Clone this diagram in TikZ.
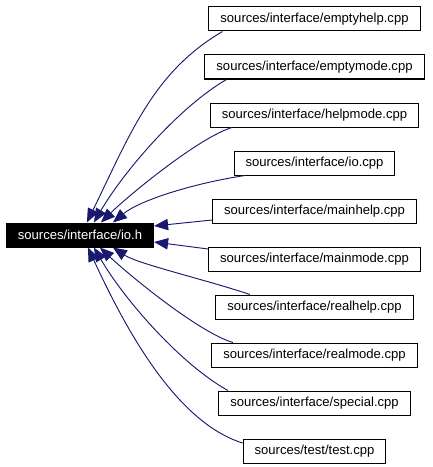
\documentclass[tikz,border=0pt]{standalone}
\usepackage{fontspec}
\setmainfont{Liberation Sans}
\usetikzlibrary{calc,arrows.meta}
\definecolor{edgeblue}{HTML}{191970}
\begin{document}
\begin{tikzpicture}[x=0.75pt,y=-0.75pt,
  filebox/.style={draw=black,line width=0.75pt,fill=white,inner xsep=8.6pt,inner ysep=2pt,
    minimum height=18pt,font=\fontsize{9.8pt}{12pt}\selectfont},
  mainbox/.style={filebox,fill=black,text=white},
  edge/.style={draw=edgeblue,line width=0.7pt,-{Triangle[length=10.5pt,width=8.5pt]}}]
\path[fill=white] (0,0) rectangle (432,467);
\useasboundingbox (0,0) rectangle (432,467);

\node[mainbox] (io) at (80,235) {sources/interface/io.h};

\node[filebox] (eh)  at (314.5,19)  {sources/interface/emptyhelp.cpp};
\node[filebox] (em)  at (314.5,67)  {sources/interface/emptymode.cpp};
\node[filebox] (hm)  at (314.5,115) {sources/interface/helpmode.cpp};
\node[filebox] (ioc) at (314.5,163) {sources/interface/io.cpp};
\node[filebox] (mh)  at (314.5,211) {sources/interface/mainhelp.cpp};
\node[filebox] (mm)  at (314.5,259) {sources/interface/mainmode.cpp};
\node[filebox] (rh)  at (314.5,307) {sources/interface/realhelp.cpp};
\node[filebox] (rm)  at (314.5,355) {sources/interface/realmode.cpp};
\node[filebox] (sp)  at (314.5,403) {sources/interface/special.cpp};
\node[filebox] (tt)  at (314.5,451) {sources/test/test.cpp};

% upper edges
\draw[edge] ($(eh.south west)+(14,0)$) .. controls (153.4,72) and (130.6,133) .. ($(io.north west)+(81,0)$);
\draw[edge] ($(em.south west)+(22,0)$) .. controls (179.5,106.7) and (124,171) .. ($(io.north west)+(88,0)$);
\draw[edge] ($(hm.south west)+(22,0)$) .. controls (198.7,137.7) and (129,195) .. ($(io.north west)+(95,0)$);
\draw[edge] ($(ioc.south west)+(11.5,0)$) .. controls (195,183) and (140,200) .. ($(io.north west)+(107,0)$);
\draw[edge] ($(mh.west)+(0,9)$) -- ($(io.east)+(0,-9)$);
\draw[edge] ($(mm.west)+(0,-10)$) -- ($(io.east)+(0,7)$);
% lower edges
\draw[edge] ($(rh.north west)+(34.5,0)$) .. controls (207,280) and (138,264) .. ($(io.south west)+(107,0)$);
\draw[edge] ($(rm.north west)+(21.5,0)$) .. controls (198.7,332.3) and (129,275) .. ($(io.south west)+(94,0)$);
\draw[edge] ($(sp.north west)+(9.6,0)$) .. controls (179.5,363.3) and (124,299) .. ($(io.south west)+(88,0)$);
\draw[edge] ($(tt.west)+(0,-8)$) .. controls (176,422.4) and (125.5,328.8) .. ($(io.south west)+(82,0)$);
\end{tikzpicture}
\end{document}
